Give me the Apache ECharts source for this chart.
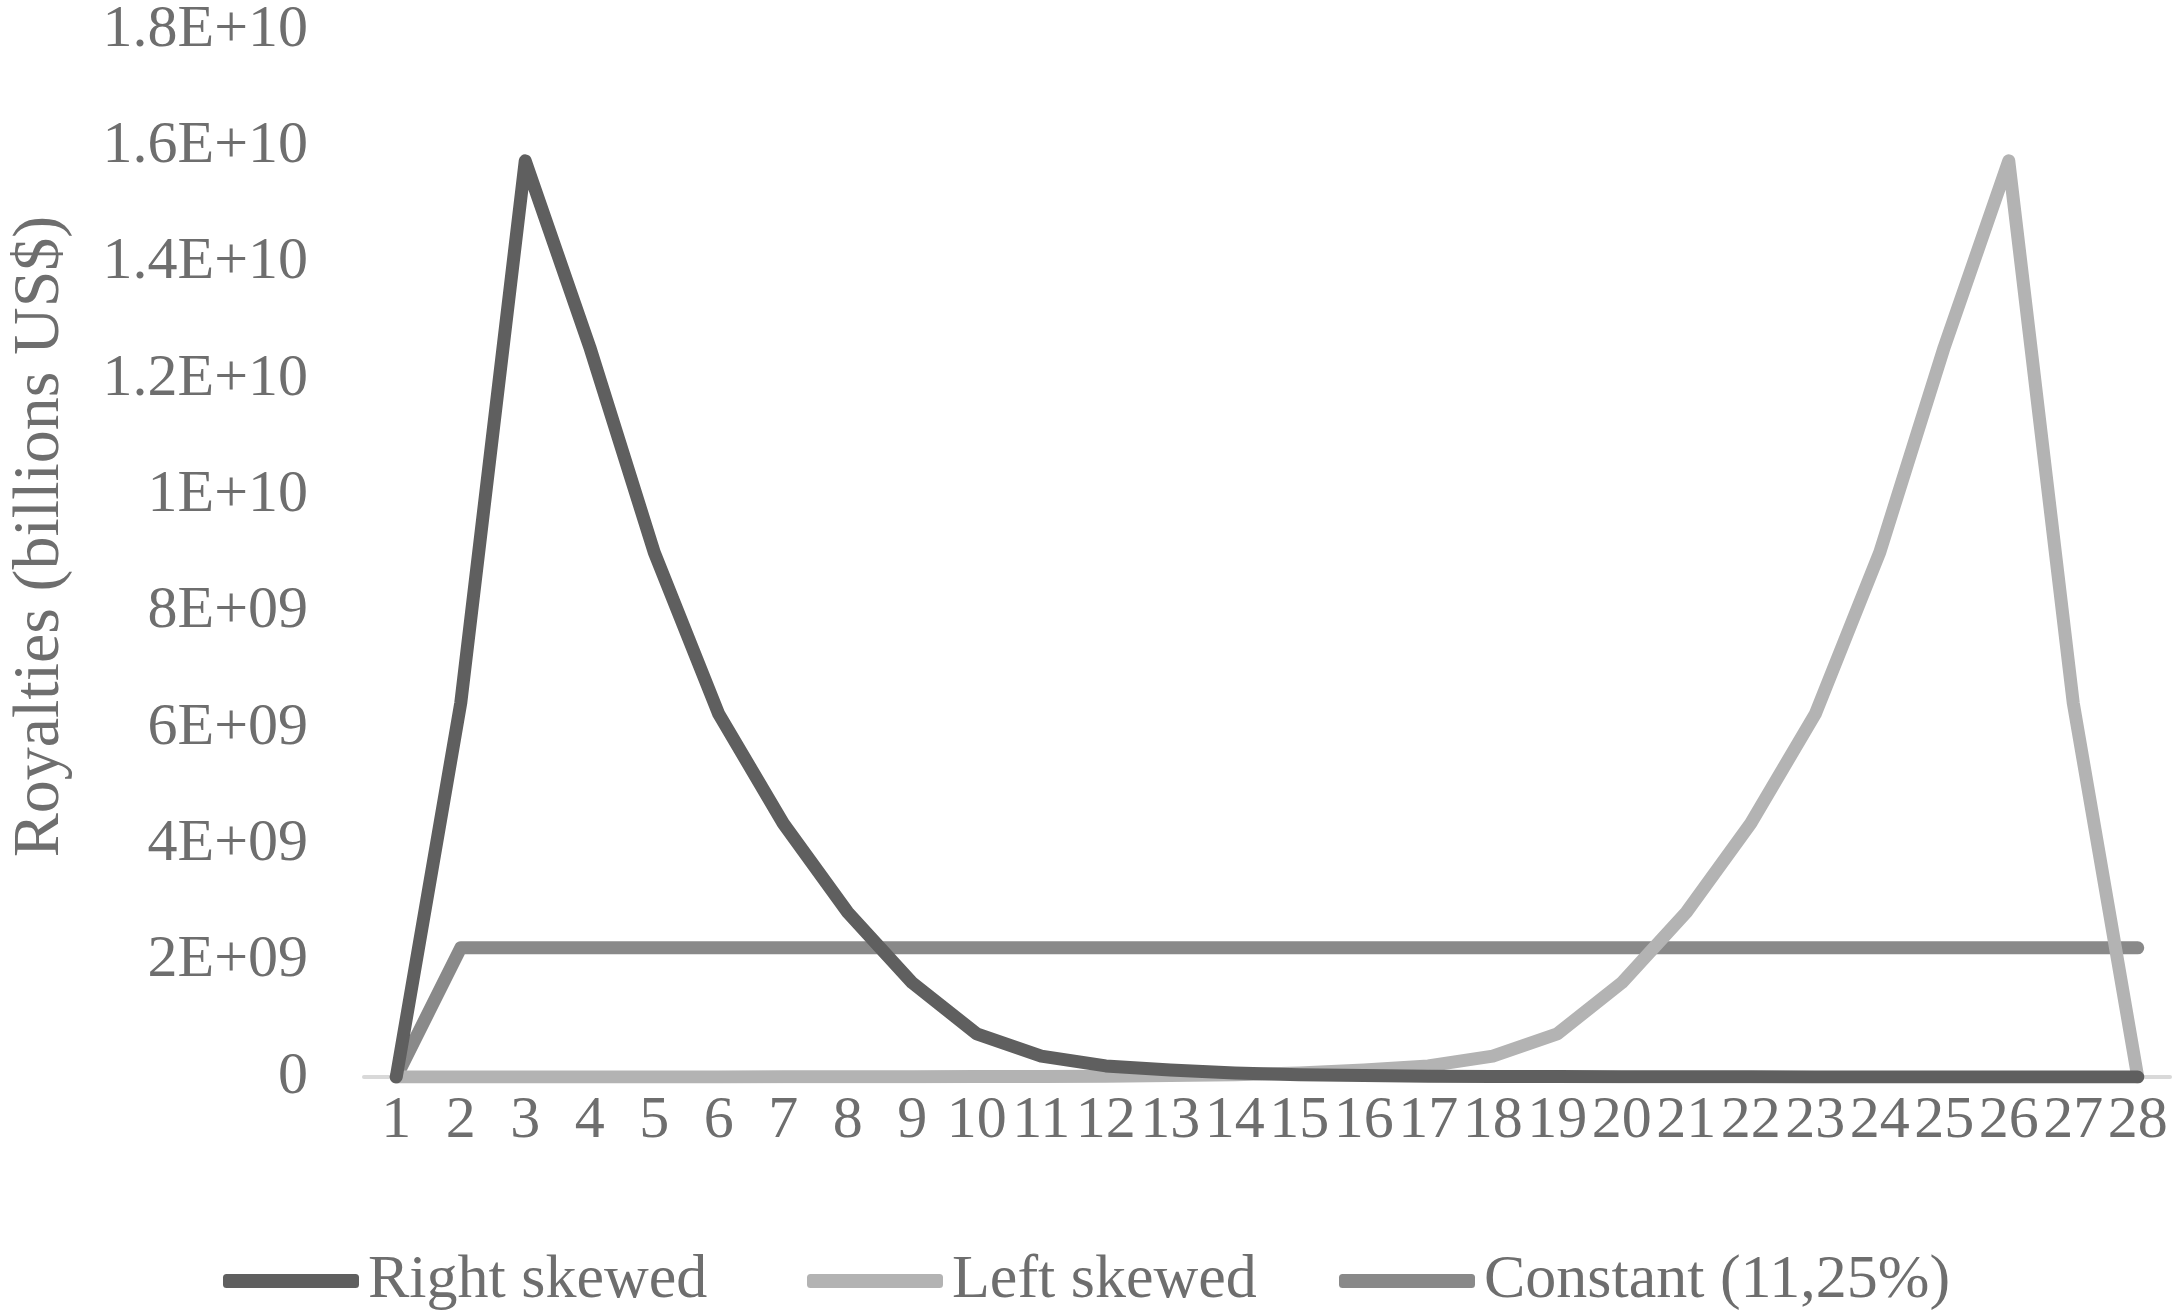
<!DOCTYPE html>
<html>
<head>
<meta charset="utf-8">
<title>Royalties</title>
<script src="https://cdn.jsdelivr.net/npm/echarts@6/dist/echarts.min.js"></script>
<style>
  html, body { margin: 0; padding: 0; background: #fff; }
  #chart { width: 2175px; height: 1314px; }
</style>
</head>
<body>
<div id="chart"></div>
<script>
// data
const categories = ['1','2','3','4','5','6','7','8','9','10','11','12','13','14',
  '15','16','17','18','19','20','21','22','23','24','25','26','27','28']

const rightSkewed = [0, 6.43e9, 15.75e9, 12.55e9, 9.02e9, 6.24e9, 4.36e9, 2.83e9, 1.62e9,
  0.74e9, 0.36e9, 0.19e9, 0.12e9, 0.07e9, 0.04e9, 0.025e9, 0.015e9, 0.01e9, 0.007e9,
  0.005e9, 0.004e9, 0.003e9, 0.002e9, 0.002e9, 0.001e9, 0.001e9, 0.001e9, 0]

const leftSkewed = [0, 0.001e9, 0.001e9, 0.001e9, 0.002e9, 0.002e9, 0.003e9, 0.004e9,
  0.005e9, 0.007e9, 0.01e9, 0.015e9, 0.025e9, 0.04e9, 0.07e9, 0.12e9, 0.19e9, 0.36e9,
  0.74e9, 1.62e9, 2.83e9, 4.36e9, 6.24e9, 9.02e9, 12.55e9, 15.75e9, 6.43e9, 0]

const constant = [0, 2.22e9, 2.22e9, 2.22e9, 2.22e9, 2.22e9, 2.22e9, 2.22e9, 2.22e9,
  2.22e9, 2.22e9, 2.22e9, 2.22e9, 2.22e9, 2.22e9, 2.22e9, 2.22e9, 2.22e9, 2.22e9,
  2.22e9, 2.22e9, 2.22e9, 2.22e9, 2.22e9, 2.22e9, 2.22e9, 2.22e9, 2.22e9]

const seriesNames = ['Right skewed', 'Left skewed', 'Constant (11,25%)']
const seriesColors = ['#5f5f5f', '#b3b3b3', '#898989']
// left edge of each legend entry (Excel spaces them unevenly)
const legendLefts = [218, 802, 1334]

const textColor = '#6e6e6e'
const fontFamily = 'Liberation Serif'

// Excel style scientific labels: 1.8E+10, 8E+09, 0
function sciLabel(v) {
  if (v === 0) return '0'
  const e = Math.floor(Math.log10(v))
  const m = parseFloat((v / Math.pow(10, e)).toFixed(2))
  return m + 'E+' + String(e).padStart(2, '0')
}

const chart = echarts.init(document.getElementById('chart'))

const option = {
  animation: false,
  backgroundColor: '#ffffff',
  textStyle: { fontFamily: fontFamily, color: textColor },
  grid: { left: 347, right: 5, top: 23, bottom: 237, containLabel: false },
  legend: seriesNames.map((name, i) => ({
    left: legendLefts[i],
    top: 1245,
    icon: 'roundRect',
    itemWidth: 136,
    itemHeight: 14,
    data: [name],
    textStyle: { fontSize: 62, color: textColor, fontFamily: fontFamily, padding: [0, 0, 0, 4] },
  })),
  xAxis: {
    type: 'category',
    data: categories,
    boundaryGap: true,
    axisLine: { show: true, lineStyle: { color: '#d9d9d9', width: 4 } },
    axisTick: { show: false },
    axisLabel: {
      interval: 0,
      margin: 14,
      fontSize: 60,
      color: textColor,
      fontFamily: fontFamily,
    },
  },
  yAxis: {
    type: 'value',
    min: 0,
    max: 1.8e10,
    interval: 2e9,
    name: 'Royalties (billions US$)',
    nameLocation: 'middle',
    nameGap: 290,
    nameTextStyle: { fontSize: 66, color: textColor, fontFamily: fontFamily, padding: [0, 0, 0, 34] },
    axisLine: { show: false },
    axisTick: { show: false },
    splitLine: { show: false },
    axisLabel: {
      margin: 56,
      fontSize: 60,
      color: textColor,
      fontFamily: fontFamily,
      formatter: sciLabel,
    },
  },
  series: [
    { name: seriesNames[0], data: rightSkewed },
    { name: seriesNames[1], data: leftSkewed },
    { name: seriesNames[2], data: constant },
  ].map((s, i) => ({
    ...s,
    type: 'line',
    showSymbol: false,
    symbol: 'none',
    color: seriesColors[i],
    lineStyle: { width: 13, color: seriesColors[i], cap: 'round', join: 'round' },
    itemStyle: { color: seriesColors[i] },
    z: 3 - i,
  })),
}

chart.setOption(option)
</script>
</body>
</html>
